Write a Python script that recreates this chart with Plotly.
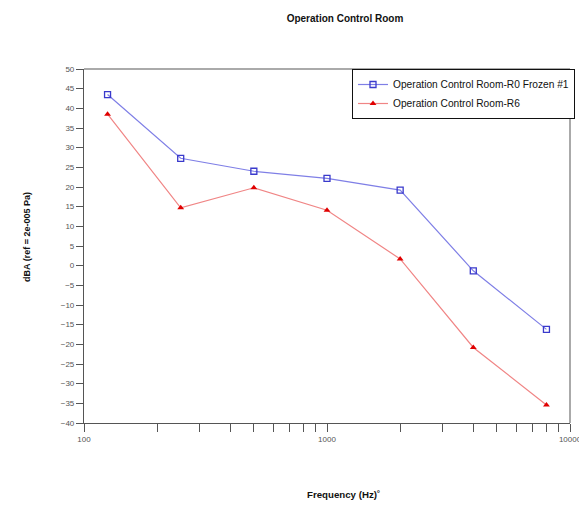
import plotly.graph_objects as go

freq = [125, 250, 500, 1000, 2000, 4000, 8000]
r0_frozen = [43.5, 27.3, 24.0, 22.2, 19.2, -1.3, -16.2]
r6 = [38.5, 14.7, 19.8, 14.1, 1.7, -20.8, -35.4]
x_tickvals = [100, 200, 300, 400, 500, 600, 700, 800, 900, 1000,
              2000, 3000, 4000, 5000, 6000, 7000, 8000, 9000, 10000]
x_ticklabels = {100: "100", 1000: "1000", 10000: "10000"}
y_tickvals = list(range(-40, 55, 5))

# page has an 8px body margin: figure is drawn 8px smaller and offset
W, H = 579, 498

fig = go.Figure()
fig.add_trace(go.Scatter(
    x=freq, y=r0_frozen, mode="lines+markers",
    name="Operation Control Room-R0 Frozen #1",
    line=dict(color="#7f7fe6", width=1.2),
    marker=dict(symbol="square-open", size=6, color="#3a3acc", line=dict(width=1.3)),
))
fig.add_trace(go.Scatter(
    x=freq, y=r6, mode="lines+markers",
    name="Operation Control Room-R6",
    line=dict(color="#f08585", width=1.2),
    marker=dict(symbol="triangle-up", size=6, color="#e00000"),
))

fig.update_layout(
    width=W, height=H,
    margin=dict(l=76, r=17, t=61, b=83, autoexpand=False),
    paper_bgcolor="white", plot_bgcolor="white",
    font=dict(family="Liberation Sans, Arial, sans-serif", color="#222"),
    showlegend=True,
    legend=dict(
        x=(352 - 84) / 486, y=1, xanchor="left", yanchor="top",
        bordercolor="#111", borderwidth=1, bgcolor="white",
        font=dict(size=10.2, color="#111"),
        tracegroupgap=0, itemwidth=30,
    ),
    title=dict(text="<b>Operation Control Room</b>", x=(345 - 8) / W, xanchor="center",
               y=1 - 10 / H, yanchor="middle", yref="container",
               font=dict(size=10, color="#111")),
)
fig.update_xaxes(
    type="log", range=[2, 4],
    tickvals=x_tickvals,
    ticktext=[x_ticklabels.get(v, "") for v in x_tickvals],
    ticks="outside", ticklen=8, tickcolor="#555", tickwidth=1,
    showline=True, linecolor="#555", linewidth=1.2,
    showgrid=False, zeroline=False,
    tickfont=dict(size=8, color="#555"),
)
fig.update_yaxes(
    range=[-40, 50], tickvals=y_tickvals,
    ticks="outside", ticklen=7, tickcolor="#555", tickwidth=1,
    showline=True, linecolor="#555", linewidth=1.2,
    showgrid=False, zeroline=False,
    tickfont=dict(size=8, color="#555"),
)
# top and right frame lines
fig.add_shape(type="line", xref="x domain", yref="y domain", x0=0, x1=1, y0=1, y1=1,
              line=dict(color="#aaaaaa", width=2))
fig.add_shape(type="line", xref="x domain", yref="y domain", x0=1, x1=1, y0=0, y1=1,
              line=dict(color="#aaaaaa", width=2))
fig.add_annotation(text="<b>Frequency (Hz)˚</b>", xref="paper", yref="paper",
                   x=(343 - 84) / 486, y=-(495 - 423) / 354, xanchor="center",
                   yanchor="middle", showarrow=False,
                   font=dict(size=9.7, color="#111"))
fig.add_annotation(text="<b>dBA (ref = 2e-005 Pa)</b>", xref="paper", yref="paper",
                   x=(27 - 84) / 486, y=(423 - 237) / 354, xanchor="center", yanchor="middle",
                   textangle=-90, showarrow=False,
                   font=dict(size=9, color="#111"))

fig.write_html("out.html")
